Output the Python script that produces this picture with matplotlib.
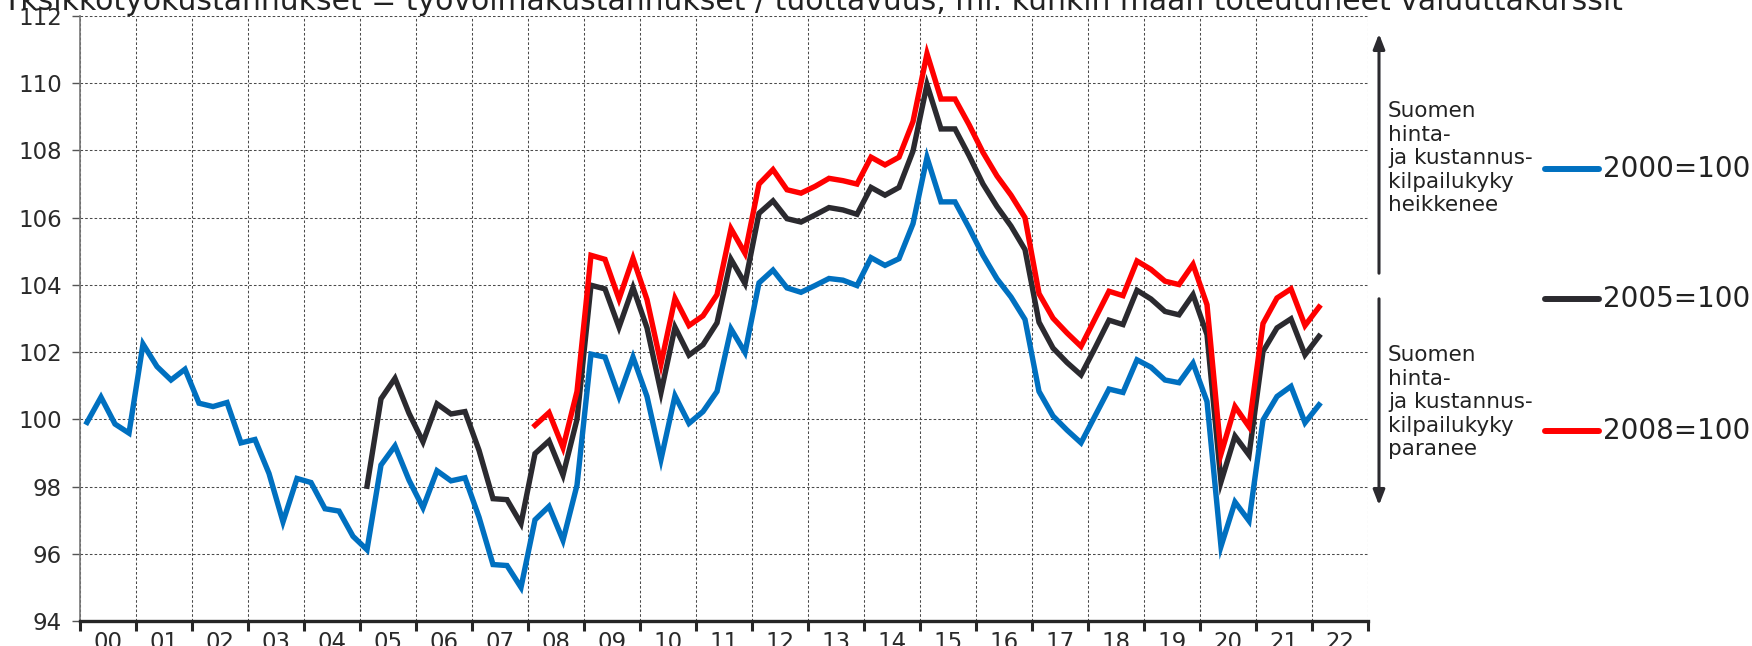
#!/usr/bin/env python3
import numpy as np
import matplotlib.pyplot as plt
from matplotlib.lines import Line2D

# quarterly index values, 2000Q1 .. 2022Q1
base2000 = [99.91, 100.66, 99.86, 99.59,
            102.24, 101.57, 101.17, 101.49,
            100.48, 100.38, 100.50, 99.30,
            99.40, 98.39, 96.95, 98.24,
            98.12, 97.34, 97.27, 96.52,
            96.12, 98.64, 99.21, 98.19,
            97.37, 98.47, 98.17, 98.26,
            97.09, 95.68, 95.65, 95.00,
            97.01, 97.41, 96.40, 98.04,
            101.94, 101.85, 100.68, 101.85,
            100.68, 98.81, 100.70, 99.88,
            100.23, 100.83, 102.69, 101.99,
            104.06, 104.44, 103.91, 103.78,
            103.98, 104.19, 104.14, 103.98,
            104.81, 104.58, 104.78, 105.82,
            107.79, 106.47, 106.47, 105.70,
            104.88, 104.18, 103.64, 102.97,
            100.83, 100.10, 99.68, 99.30,
            100.10, 100.90, 100.80, 101.77,
            101.55, 101.17, 101.09, 101.67,
            100.53, 96.22, 97.54, 96.98,
            99.98, 100.68, 100.98, 99.90,
            100.43]

# 2005Q1 .. 2022Q1
base2005 = [98.01, 100.61, 101.22, 100.18,
            99.33, 100.46, 100.16, 100.23,
            99.08, 97.64, 97.61, 96.90,
            98.98, 99.36, 98.34, 100.00,
            103.99, 103.88, 102.74, 103.92,
            102.72, 100.80, 102.74, 101.91,
            102.22, 102.87, 104.76, 104.04,
            106.13, 106.50, 105.97, 105.87,
            106.08, 106.30, 106.23, 106.10,
            106.90, 106.67, 106.90, 107.98,
            109.96, 108.64, 108.64, 107.85,
            107.00, 106.33, 105.75, 105.05,
            102.89, 102.12, 101.69, 101.32,
            102.12, 102.95, 102.82, 103.84,
            103.58, 103.21, 103.11, 103.71,
            102.52, 98.14, 99.50, 98.94,
            102.02, 102.72, 102.99, 101.92,
            102.47]

# 2008Q1 .. 2022Q1
base2008 = [99.82, 100.20, 99.16, 100.83,
            104.88, 104.76, 103.58, 104.79,
            103.56, 101.65, 103.60, 102.79,
            103.08, 103.71, 105.67, 104.94,
            107.00, 107.43, 106.83, 106.73,
            106.93, 107.17, 107.10, 107.00,
            107.80, 107.57, 107.80, 108.86,
            110.88, 109.53, 109.53, 108.77,
            107.94, 107.24, 106.67, 106.00,
            103.74, 103.01, 102.57, 102.17,
            102.99, 103.81, 103.68, 104.71,
            104.46, 104.11, 104.01, 104.61,
            103.41, 98.97, 100.38, 99.78,
            102.85, 103.61, 103.88, 102.79,
            103.34]

series = [(2000, base2000, '#0070C0', '2000=100'),
          (2005, base2005, '#2B2A2F', '2005=100'),
          (2008, base2008, '#FF0000', '2008=100')]

year_labels = ['%02d' % (y % 100) for y in range(2000, 2023)]

title = ('Yksikkötyökustannukset = työvoimakustannukset / tuottavuus, '
         'ml. kunkin maan toteutuneet valuuttakurssit')

W, H = 1752, 646
fig = plt.figure(figsize=(W / 100, H / 100), dpi=100)
ax = fig.add_axes([80 / W, 1 - 621 / H, (1368 - 80) / W, (621 - 16) / H])

for start, vals, col, lab in series:
    x = start + 0.125 + 0.25 * np.arange(len(vals))
    ax.plot(x, vals, color=col, lw=3.9, solid_joinstyle='miter', zorder=3)

ax.set_xlim(2000, 2023)
ax.set_ylim(94, 112)
ax.set_yticks(np.arange(94, 113, 2))
ax.set_xticks(np.arange(2000, 2024))
ax.set_xticklabels([])
ax.set_xticks(np.arange(2000.5, 2023, 1), minor=True)
ax.set_xticklabels(year_labels, minor=True,
                   family=['Liberation Sans Narrow', 'DejaVu Sans'], fontsize=16.5,
                   color='#2a2a2a')
ax.tick_params(axis='x', which='major', length=7, width=2.2, color='#262626',
               direction='out')
ax.tick_params(axis='x', which='minor', length=0, pad=7)
ax.tick_params(axis='y', length=6, width=1, color='#555555', pad=7,
               labelsize=16.5, labelcolor='#2a2a2a')

ax.grid(True, which='major', color='#4a4a4a', lw=0.75, ls=(0, (2.5, 2)))
for s in ['top', 'right']:
    ax.spines[s].set_visible(False)
ax.spines['left'].set_color('#777777')
ax.spines['left'].set_linewidth(1.2)
ax.spines['bottom'].set_color('#262626')
ax.spines['bottom'].set_linewidth(2.4)

# heading runs off the top edge, only its lower part shows
fig.text(2 / W, 1 - 10 / H, title, fontsize=21.5, color='#222222', va='baseline',
         ha='left')


def fy(y):
    return 1 - y / H


# direction arrows on the right of the plot
arrow_kw = dict(arrowstyle='-|>,head_length=0.9,head_width=0.35', color='#2B2A2F',
                lw=2.2)
ax.annotate('', xy=(1379 / W, fy(31)), xytext=(1379 / W, fy(276)),
            xycoords='figure fraction', arrowprops=arrow_kw)
ax.annotate('', xy=(1379 / W, fy(508)), xytext=(1379 / W, fy(296)),
            xycoords='figure fraction', arrowprops=arrow_kw)

note_kw = dict(fontsize=15.5, color='#222222', va='top', ha='left', linespacing=1.22)
fig.text(1388 / W, fy(101), 'Suomen\nhinta-\nja kustannus-\nkilpailukyky\nheikkenee',
         **note_kw)
fig.text(1388 / W, fy(345), 'Suomen\nhinta-\nja kustannus-\nkilpailukyky\nparanee',
         **note_kw)

# legend entries
for (start, vals, col, lab), yy in zip(series, [169, 299, 431]):
    fig.add_artist(Line2D([1545 / W, 1599 / W], [fy(yy), fy(yy)], color=col, lw=4.3,
                          solid_capstyle='round'))
    fig.text(1603 / W, fy(yy), lab, fontsize=20, color='#222222', va='center',
             ha='left')

fig.savefig('out.png', dpi=100)
